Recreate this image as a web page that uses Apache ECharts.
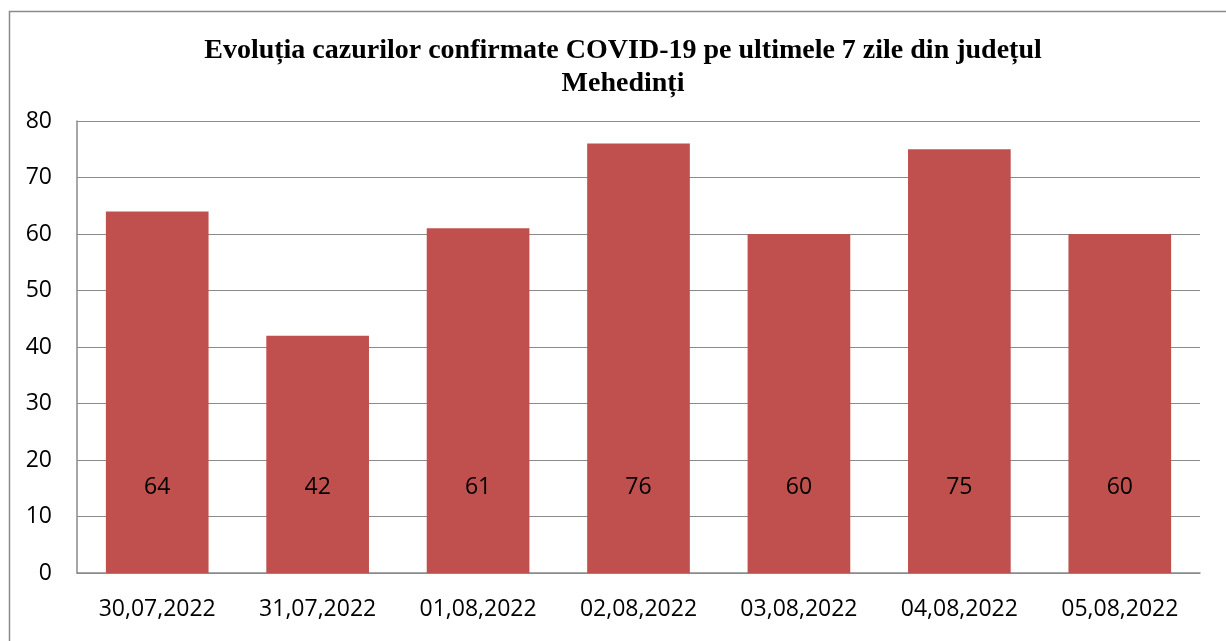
<!DOCTYPE html>
<html>
<head>
<meta charset="utf-8">
<script src="https://cdn.jsdelivr.net/npm/echarts@6/dist/echarts.min.js"></script>
<style>
html,body{margin:0;padding:0;background:#fff;}
#chart{width:1226px;height:641px;}
</style>
</head>
<body>
<div id="chart"></div>
<script>
const categories = ['30,07,2022','31,07,2022','01,08,2022','02,08,2022','03,08,2022','04,08,2022','05,08,2022'];
const values = [64, 42, 61, 76, 60, 75, 60];
const yTicks = [0, 10, 20, 30, 40, 50, 60, 70, 80];
const titleText = 'Evoluția cazurilor confirmate COVID-19 pe ultimele 7 zile din județul\nMehedinți';

const chart = echarts.init(document.getElementById('chart'));
chart.setOption({
  animation: false,
  backgroundColor: '#ffffff',
  graphic: [{
    type: 'rect',
    shape: {x: 9.5, y: 11.5, width: 1240, height: 660},
    style: {fill: 'none', stroke: '#8a8a8a', lineWidth: 1.5},
    silent: true
  }],
  title: {
    text: titleText,
    left: 618,
    textAlign: 'center',
    top: 29,
    textStyle: {
      fontFamily: '"Liberation Serif", "DejaVu Serif", serif',
      fontWeight: 'bold',
      fontSize: 28,
      lineHeight: 33,
      color: '#000'
    }
  },
  grid: {left: 77, right: 26, top: 121, bottom: 68, containLabel: false},
  xAxis: {
    type: 'category',
    data: categories,
    axisLine: {show: true, lineStyle: {color: '#8a8a8a', width: 1.5}},
    axisTick: {show: false},
    axisLabel: {
      margin: 25,
      fontFamily: '"Open Sans", "Liberation Sans", sans-serif',
      fontSize: 23,
      color: '#000'
    }
  },
  yAxis: {
    type: 'value',
    min: yTicks[0],
    max: yTicks[yTicks.length - 1],
    interval: 10,
    axisLine: {show: true, lineStyle: {color: '#8a8a8a', width: 1.5}},
    axisTick: {show: false},
    splitLine: {show: true, lineStyle: {color: '#8a8a8a', width: 1.2}},
    axisLabel: {
      margin: 25,
      fontFamily: '"Open Sans", "Liberation Sans", sans-serif',
      fontSize: 23,
      color: '#000'
    }
  },
  series: [{
    type: 'bar',
    data: values,
    barCategoryGap: '36%',
    itemStyle: {color: '#C0504D'},
    label: {
      show: true,
      position: 'insideBottom',
      distance: 74,
      fontFamily: '"Open Sans", "Liberation Sans", sans-serif',
      fontSize: 23,
      color: '#000'
    }
  }]
});
</script>
</body>
</html>
